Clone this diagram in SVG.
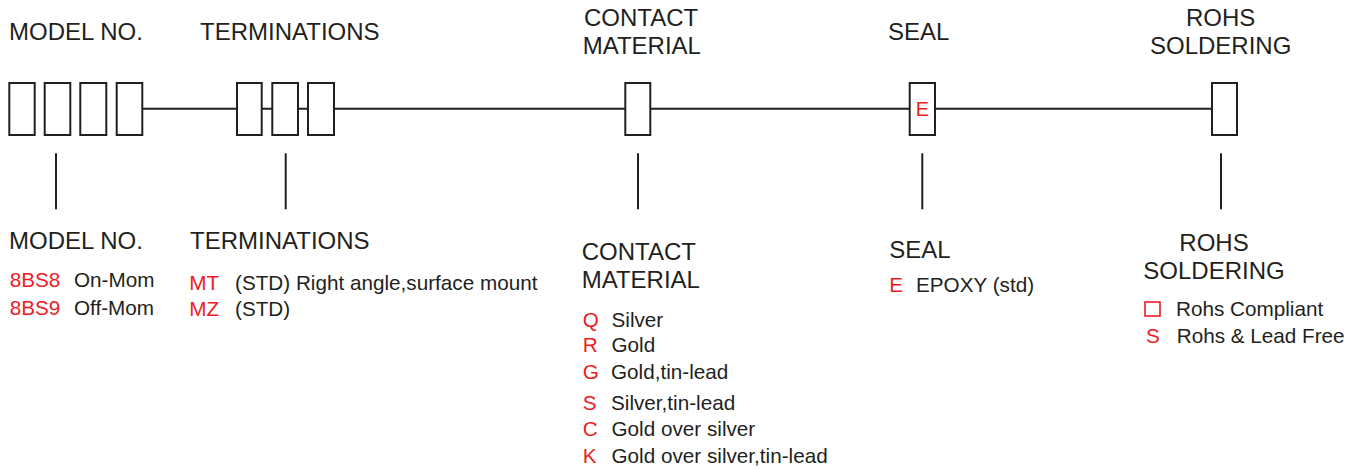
<svg xmlns="http://www.w3.org/2000/svg" width="1361" height="470" viewBox="0 0 1361 470">
<style>
text{font-family:"Liberation Sans",Arial,sans-serif;fill:#231f20}
.h{font-size:24px}
.t{font-size:20.7px}
.r{fill:#ed1c24}
.box{fill:#fff;stroke:#231f20;stroke-width:2}
.ln{stroke:#231f20;stroke-width:2;fill:none}
</style>
<rect width="1361" height="470" fill="#fff"/>
<g id="connectors">
<line class="ln" x1="143" y1="108.7" x2="1211" y2="108.7"/>
<line class="ln" x1="56" y1="153.3" x2="56" y2="209.3"/>
<line class="ln" x1="285.7" y1="153.3" x2="285.7" y2="209.3"/>
<line class="ln" x1="638" y1="153.3" x2="638" y2="209.3"/>
<line class="ln" x1="922.3" y1="153.3" x2="922.3" y2="209.3"/>
<line class="ln" x1="1221" y1="153.3" x2="1221" y2="209.3"/>
</g>
<g id="model">
<text class="h" x="9" y="40">MODEL NO.</text>
<rect class="box" x="9.3" y="83" width="25.4" height="52"/>
<rect class="box" x="44.7" y="83" width="25.6" height="52"/>
<rect class="box" x="80.3" y="83" width="26" height="52"/>
<rect class="box" x="116.7" y="83" width="25.6" height="52"/>
<text class="h" x="9" y="249.3">MODEL NO.</text>
<text class="t r" x="9.7" y="287.3">8BS8</text><text class="t" x="74" y="287.3">On-Mom</text>
<text class="t r" x="9.7" y="315">8BS9</text><text class="t" x="74" y="315">Off-Mom</text>
</g>
<g id="terminations">
<text class="h" x="200" y="40">TERMINATIONS</text>
<rect class="box" x="237" y="83" width="24.7" height="52"/>
<rect class="box" x="272.3" y="83" width="25.7" height="52"/>
<rect class="box" x="308" y="83" width="26" height="52"/>
<text class="h" x="190" y="249.3">TERMINATIONS</text>
<text class="t r" x="189.3" y="289.5">MT</text><text class="t" x="235" y="289.5">(STD) Right angle,surface mount</text>
<text class="t r" x="189.3" y="315.5">MZ</text><text class="t" x="235" y="315.5">(STD)</text>
</g>
<g id="contact">
<text class="h" x="584" y="26">CONTACT</text>
<text class="h" x="582.7" y="54.3">MATERIAL</text>
<rect class="box" x="625.3" y="83" width="25" height="52"/>
<text class="h" x="581.7" y="260">CONTACT</text>
<text class="h" x="581.7" y="288.3">MATERIAL</text>
<text class="t r" x="582.7" y="326.5">Q</text><text class="t" x="611.5" y="326.5">Silver</text>
<text class="t r" x="582.7" y="351.7">R</text><text class="t" x="611.5" y="351.7">Gold</text>
<text class="t r" x="582.7" y="379">G</text><text class="t" x="611" y="379">Gold,tin-lead</text>
<text class="t r" x="582.7" y="410">S</text><text class="t" x="611" y="410">Silver,tin-lead</text>
<text class="t r" x="582.7" y="436">C</text><text class="t" x="611.5" y="436">Gold over silver</text>
<text class="t r" x="582.7" y="463.3">K</text><text class="t" x="611.5" y="463.3">Gold over silver,tin-lead</text>
</g>
<g id="seal">
<text class="h" x="888" y="40">SEAL</text>
<rect class="box" x="909.7" y="83" width="25.3" height="52"/>
<text class="t r" x="922.5" y="116" text-anchor="middle" style="font-size:20px">E</text>
<text class="h" x="889.3" y="257.5">SEAL</text>
<text class="t r" x="889.3" y="291.7">E</text><text class="t" x="916" y="291.7">EPOXY (std)</text>
</g>
<g id="rohs">
<text class="h" x="1186" y="26">ROHS</text>
<text class="h" x="1150" y="54.3">SOLDERING</text>
<rect class="box" x="1212" y="83" width="25" height="52"/>
<text class="h" x="1179.3" y="251">ROHS</text>
<text class="h" x="1143.3" y="279.3">SOLDERING</text>
<rect x="1145" y="302" width="15" height="14" fill="none" stroke="#ed1c24" stroke-width="1.6"/>
<text class="t" x="1176" y="316">Rohs Compliant</text>
<text class="t r" x="1146" y="343.3">S</text><text class="t" x="1176.7" y="343.3">Rohs &amp; Lead Free</text>
</g>
</svg>
